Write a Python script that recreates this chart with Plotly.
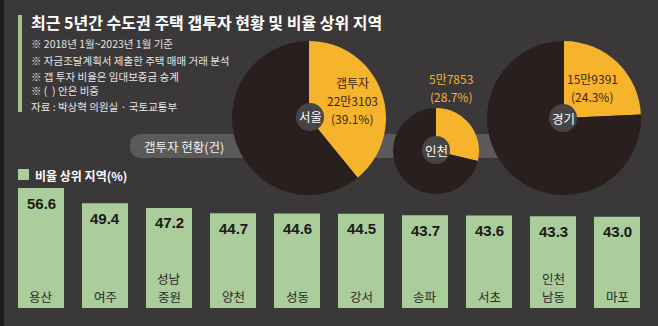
import plotly.graph_objects as go

W, H = 658, 326

# ---- data ----
regions = ["용산", "여주", "성남 중원", "양천", "성동", "강서", "송파", "서초", "인천 남동", "마포"]
ratios = [56.6, 49.4, 47.2, 44.7, 44.6, 44.5, 43.7, 43.6, 43.3, 43.0]

pie_names = ["서울", "인천", "경기"]
gap_share = [39.1, 28.7, 24.3]
gap_count_labels = ["22만3103", "5만7853", "15만9391"]

title = "최근 5년간 수도권 주택 갭투자 현황 및 비율 상위 지역"
notes = ["※ 2018년 1월~2023년 1월 기준",
         "※ 자금조달계획서 제출한 주택 매매 거래 분석",
         "※ 갭 투자 비율은 임대보증금 승계",
         "※ (  ) 안은 비중",
         "자료 : 박상혁 의원실 · 국토교통부"]

# ---- style ----
BG = "#3a3838"
GREEN = "#abcc9b"
YELLOW = "#f6b42c"
DARK = "#2a1f1f"
FONT = "Noto Sans CJK KR"


def px(x):
    return x / W


def py(y):
    return 1 - y / H


fig = go.Figure()

# bars
bar_bottom, bar_top = 308, 188
fig.add_trace(go.Bar(
    x=regions, y=ratios, marker=dict(color=GREEN, line=dict(width=0)),
    hoverinfo="skip", showlegend=False,
))

# pies
pie_geo = [(309, 118, 77), (436, 151, 43), (564, 118, 77)]
for (cx, cy, r), share in zip(pie_geo, gap_share):
    fig.add_trace(go.Pie(
        values=[share, 100 - share], sort=False, direction="clockwise", rotation=0,
        marker=dict(colors=[YELLOW, DARK], line=dict(width=0)),
        textinfo="none", hoverinfo="skip", showlegend=False,
        domain=dict(x=[px(cx - r), px(cx + r)], y=[py(cy + r), py(cy - r)]),
    ))

shapes = []
# left dark strip
shapes.append(dict(type="rect", xref="paper", yref="paper", x0=0, x1=px(4), y0=0, y1=1,
                   fillcolor="#1f1d1d", line=dict(width=0), layer="below"))
# green accent bar
shapes.append(dict(type="rect", xref="paper", yref="paper", x0=px(18), x1=px(22), y0=py(112), y1=py(15),
                   fillcolor="#9cc48c", line=dict(width=0), layer="below"))
# band / pill behind pies
x0, x1, y0, y1 = 130, 560, 134, 158
rr = (y1 - y0) / 2
path = (f"M {px(x0 + rr)},{py(y0)} L {px(x1)},{py(y0)} L {px(x1)},{py(y1)} L {px(x0 + rr)},{py(y1)} "
        f"Q {px(x0)},{py(y1)} {px(x0)},{py((y0 + y1) / 2)} Q {px(x0)},{py(y0)} {px(x0 + rr)},{py(y0)} Z")
shapes.append(dict(type="path", xref="paper", yref="paper", path=path,
                   fillcolor="#5b5959", line=dict(width=0), layer="below"))
# legend square
shapes.append(dict(type="rect", xref="paper", yref="paper", x0=px(18), x1=px(29), y0=py(180), y1=py(169),
                   fillcolor=GREEN, line=dict(width=0), layer="below"))
# center label circles on pies
label_pos = [(310, 117), (436, 150), (563, 118)]
for (cx, cy) in label_pos:
    shapes.append(dict(type="circle", xref="paper", yref="paper",
                       x0=px(cx - 14), x1=px(cx + 14), y0=py(cy + 14), y1=py(cy - 14),
                       fillcolor="#464444", line=dict(width=0), layer="above"))

ann = []


def text(x, y, t, size, color="#ffffff", xanchor="center", bold=False, yanchor="middle"):
    ann.append(dict(x=px(x), y=py(y), xref="paper", yref="paper", text=f"<b>{t}</b>" if bold else t,
                    showarrow=False, xanchor=xanchor, yanchor=yanchor,
                    font=dict(family=FONT, size=size, color=color)))


text(29, 22, title, 16, bold=True, xanchor="left")
for i, n in enumerate(notes):
    text(29, [43, 60, 76, 91, 106][i], n, 10.5, color="#e6e6e6", xanchor="left")

text(33, 175, "비율 상위 지역(%)", 12, bold=True, xanchor="left")
text(184, 146, "갭투자 현황(건)", 12.5, color="#f2f2f2")

for (cx, cy), name in zip(label_pos, pie_names):
    text(cx, cy, name, 12.5, color="#ffffff")

# pie value labels (separate lines)
INK = "#3a2414"
text(352, 83, "갭투자", 12, color=INK)
text(352, 100.5, gap_count_labels[0], 12, color=INK)
text(352, 118, f"({gap_share[0]}%)", 12, color=INK)
text(451, 79, gap_count_labels[1], 12, color=YELLOW)
text(451, 96.5, f"({gap_share[1]}%)", 12, color=YELLOW)
text(592, 79, gap_count_labels[2], 12, color=INK)
text(592, 96.5, f"({gap_share[2]}%)", 12, color=INK)

# bar labels
for reg, v in zip(regions, ratios):
    ann.append(dict(x=reg, y=v, xref="x", yref="y", text=f"<b>{v:.1f}</b>", showarrow=False,
                    yanchor="middle", yshift=-15,
                    font=dict(family="Liberation Sans", size=15, color="#1a1a1a")))
    parts = reg.split(" ")
    for j, part in enumerate(reversed(parts)):
        ann.append(dict(x=reg, y=0, xref="x", yref="y", text=part, showarrow=False,
                        yanchor="middle", yshift=12 + 17.5 * j,
                        font=dict(family=FONT, size=12.5, color="#2a2a2a")))

fig.update_layout(
    width=W, height=H, margin=dict(l=0, r=0, t=0, b=0),
    paper_bgcolor=BG, plot_bgcolor="rgba(0,0,0,0)",
    bargap=0.28,
    xaxis=dict(domain=[px(9), px(649)], range=[-0.5, 9.5], showticklabels=False, showgrid=False,
               zeroline=False, showline=False, fixedrange=True),
    yaxis=dict(domain=[py(bar_bottom), py(bar_top)], range=[0, 56.6], showticklabels=False,
               showgrid=False, zeroline=False, showline=False, fixedrange=True),
    shapes=shapes, annotations=ann,
)

fig.write_html("out.html")
